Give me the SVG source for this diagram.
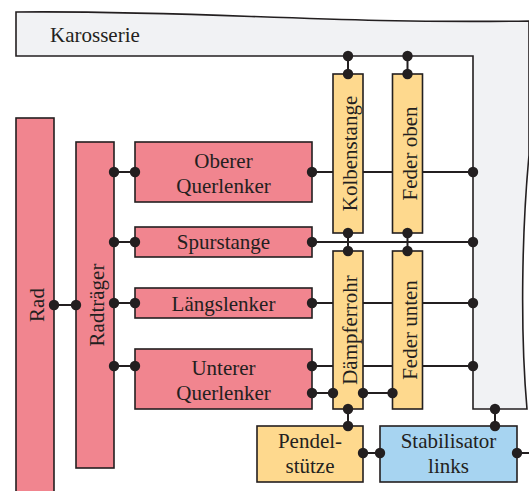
<svg xmlns="http://www.w3.org/2000/svg" width="529" height="491" viewBox="0 0 529 491">
<style>
.b{stroke:#231f20;stroke-width:1.6}
.p{fill:#f1858f}
.y{fill:#fed98e}
.bl{fill:#a7d4f1}
.t{font-family:"Liberation Serif","Times New Roman",serif;font-size:21px;fill:#231f20;text-anchor:middle}
.c line{stroke:#231f20;stroke-width:2}
.c circle{fill:#231f20}
</style>
<rect width="529" height="491" fill="#ffffff"/>
<g id="karosserie">
<path class="b" fill="#f1f2f4" d="M16,12 C200,10 320,24 529,21 L529,155 C522,230 520,330 527,409 L473,409 L473,56 L16,56 Z"/>
<text class="t" x="50" y="42" style="text-anchor:start">Karosserie</text>
</g>
<g id="rad">
<rect class="b p" x="16" y="118" width="38" height="390"/>
<text class="t" transform="translate(43.5,305) rotate(-90)">Rad</text>
</g>
<g id="radtraeger">
<rect class="b p" x="76" y="142" width="38" height="326"/>
<text class="t" transform="translate(103.5,305) rotate(-90)">Radträger</text>
</g>
<g id="oberer-querlenker">
<rect class="b p" x="135" y="142" width="177" height="60"/>
<text class="t" x="223.5" y="168">Oberer</text>
<text class="t" x="223.5" y="193">Querlenker</text>
</g>
<g id="spurstange">
<rect class="b p" x="135" y="227" width="177" height="30"/>
<text class="t" x="223.5" y="249">Spurstange</text>
</g>
<g id="laengslenker">
<rect class="b p" x="135" y="288" width="177" height="30"/>
<text class="t" x="223.5" y="311">Längslenker</text>
</g>
<g id="unterer-querlenker">
<rect class="b p" x="135" y="349" width="177" height="60"/>
<text class="t" x="223.5" y="375">Unterer</text>
<text class="t" x="223.5" y="400">Querlenker</text>
</g>
<g id="kolbenstange">
<rect class="b y" x="333" y="74" width="30" height="159"/>
<text class="t" transform="translate(357,153.5) rotate(-90)">Kolbenstange</text>
</g>
<g id="feder-oben">
<rect class="b y" x="392.5" y="74" width="30" height="159"/>
<text class="t" transform="translate(416.5,153.5) rotate(-90)">Feder oben</text>
</g>
<g id="daempferrohr">
<rect class="b y" x="333" y="251" width="30" height="158"/>
<text class="t" transform="translate(357,330) rotate(-90)">Dämpferrohr</text>
</g>
<g id="feder-unten">
<rect class="b y" x="392.5" y="251" width="30" height="158"/>
<text class="t" transform="translate(416.5,330) rotate(-90)">Feder unten</text>
</g>
<g id="pendelstuetze">
<rect class="b y" x="257" y="426" width="106" height="56"/>
<text class="t" x="310" y="448">Pendel-</text>
<text class="t" x="310" y="473">stütze</text>
</g>
<g id="stabilisator">
<rect class="b bl" x="380" y="426" width="137" height="56"/>
<text class="t" x="448.5" y="448">Stabilisator</text>
<text class="t" x="448.5" y="473">links</text>
</g>
<g id="connectors" class="c">
<line x1="348" y1="56" x2="348" y2="74"/>
<line x1="407.5" y1="56" x2="407.5" y2="74"/>
<line x1="348" y1="233" x2="348" y2="251"/>
<line x1="407.5" y1="233" x2="407.5" y2="251"/>
<line x1="54" y1="305" x2="76" y2="305"/>
<line x1="114" y1="172" x2="135" y2="172"/>
<line x1="114" y1="242" x2="135" y2="242"/>
<line x1="114" y1="303" x2="135" y2="303"/>
<line x1="114" y1="366" x2="135" y2="366"/>
<line x1="312" y1="172" x2="333" y2="172"/>
<line x1="363" y1="172" x2="392.5" y2="172"/>
<line x1="422.5" y1="172" x2="473" y2="172"/>
<line x1="312" y1="242" x2="473" y2="242"/>
<line x1="312" y1="303" x2="333" y2="303"/>
<line x1="363" y1="303" x2="392.5" y2="303"/>
<line x1="422.5" y1="303" x2="473" y2="303"/>
<line x1="312" y1="366" x2="333" y2="366"/>
<line x1="363" y1="366" x2="392.5" y2="366"/>
<line x1="422.5" y1="366" x2="473" y2="366"/>
<line x1="312" y1="393" x2="333" y2="393"/>
<line x1="363" y1="393" x2="392.5" y2="393"/>
<line x1="348" y1="409" x2="348" y2="426"/>
<line x1="495" y1="409" x2="495" y2="426"/>
<line x1="363" y1="453" x2="380" y2="453"/>
<line x1="517" y1="453" x2="529" y2="453"/>
<circle cx="348" cy="56" r="5.2"/><circle cx="348" cy="74" r="5.2"/>
<circle cx="407.5" cy="56" r="5.2"/><circle cx="407.5" cy="74" r="5.2"/>
<circle cx="348" cy="233" r="5.2"/><circle cx="348" cy="251" r="5.2"/>
<circle cx="407.5" cy="233" r="5.2"/><circle cx="407.5" cy="251" r="5.2"/>
<circle cx="54" cy="305" r="5.2"/><circle cx="76" cy="305" r="5.2"/>
<circle cx="114" cy="172" r="5.2"/><circle cx="135" cy="172" r="5.2"/><circle cx="312" cy="172" r="5.2"/><circle cx="473" cy="172" r="5.2"/>
<circle cx="114" cy="242" r="5.2"/><circle cx="135" cy="242" r="5.2"/><circle cx="312" cy="242" r="5.2"/><circle cx="473" cy="242" r="5.2"/>
<circle cx="114" cy="303" r="5.2"/><circle cx="135" cy="303" r="5.2"/><circle cx="312" cy="303" r="5.2"/><circle cx="473" cy="303" r="5.2"/>
<circle cx="114" cy="366" r="5.2"/><circle cx="135" cy="366" r="5.2"/><circle cx="312" cy="366" r="5.2"/><circle cx="473" cy="366" r="5.2"/>
<circle cx="312" cy="393" r="5.2"/><circle cx="333" cy="393" r="5.2"/><circle cx="363" cy="393" r="5.2"/><circle cx="392.5" cy="393" r="5.2"/>
<circle cx="348" cy="409" r="5.2"/><circle cx="348" cy="426" r="5.2"/>
<circle cx="495" cy="409" r="5.2"/><circle cx="495" cy="426" r="5.2"/>
<circle cx="363" cy="453" r="5.2"/><circle cx="380" cy="453" r="5.2"/><circle cx="517" cy="453" r="5.2"/>
</g>
</svg>
